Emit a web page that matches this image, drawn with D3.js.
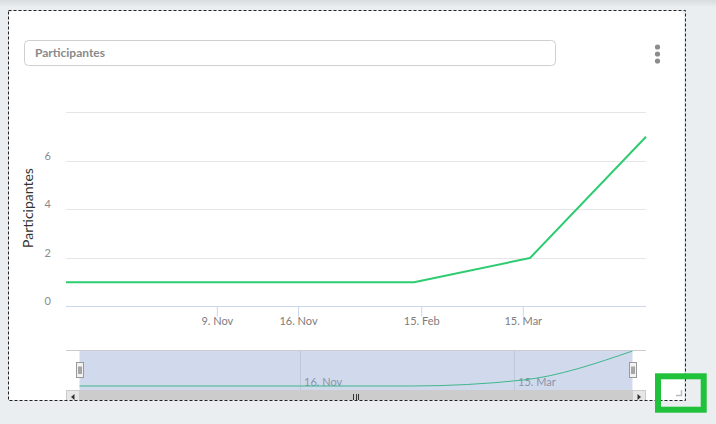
<!DOCTYPE html>
<html><head><meta charset="utf-8">
<script src="https://cdn.jsdelivr.net/npm/d3@7"></script>
<style>
html,body{margin:0;padding:0;background:#ebeef0;}
svg{display:block;font-family:Lato,"Open Sans",sans-serif;}
</style>
</head><body>
<svg id="c" width="716" height="424"></svg>
<script>
// ---- data ----
const dates = ["2020-11-03","2020-11-06","2020-11-16","2021-02-13","2021-03-17","2021-03-24"];
const participants = [1, 1, 1, 1, 2, 7];
const xTickDates = ["2020-11-09","2020-11-16","2021-02-15","2021-03-15"];
const navTickDates = ["2020-11-16","2021-03-15"];
const yTicks = [0, 2, 4, 6, 8];
const yLabelTicks = [0, 2, 4, 6];
const seriesName = "Participantes";

const parse = d3.utcParse("%Y-%m-%d");
const data = dates.map((d, i) => ({date: parse(d), v: participants[i]}));
const fmt = d3.utcFormat("%-d. %b");

const W = 716, H = 424;
const svg = d3.select("#c");
const defs = svg.append("defs");

// page background
const g0 = defs.append("linearGradient").attr("id","topShade").attr("x1",0).attr("x2",0).attr("y1",0).attr("y2",1);
g0.append("stop").attr("offset","0%").attr("stop-color","#d8dcde");
g0.append("stop").attr("offset","100%").attr("stop-color","#ebeef0");
svg.append("rect").attr("width",W).attr("height",H).attr("fill","#ebeef0");
svg.append("rect").attr("width",W).attr("height",7).attr("fill","url(#topShade)");

// card
const card = {x:9, y:11, w:675, h:389};
defs.append("clipPath").attr("id","cardClip").append("rect")
  .attr("x",card.x).attr("y",card.y).attr("width",card.w).attr("height",card.h);
svg.append("rect").attr("x",card.x).attr("y",card.y).attr("width",card.w).attr("height",card.h+6)
  .attr("rx",5).attr("fill","#fff").attr("clip-path","url(#cardClip)");

const G = svg.append("g").attr("clip-path","url(#cardClip)");

// title box
G.append("rect").attr("x",24.5).attr("y",40.5).attr("width",531).attr("height",25).attr("rx",4)
  .attr("fill","#fff").attr("stroke","#cfcfcf");
G.append("text").attr("x",35).attr("y",56.5).attr("font-size",12).attr("font-weight","bold")
  .attr("fill","#8a8a8a").text(seriesName);

// menu dots
G.selectAll("circle.dot").data([0,1,2]).join("circle").attr("class","dot")
  .attr("cx",657.5).attr("cy",d=>47+d*7).attr("r",2.6).attr("fill","#8c8c8c");

// ---- main plot ----
const plot = {left:66, right:646, top:112.5, bottom:306.5};
const n = data.length;
const slots = (a, b) => d3.range(n).map(i => a + i*(b-a)/(n-1));
const x = d3.scaleUtc().domain(data.map(d=>d.date)).range(slots(plot.left, plot.right));
const y = d3.scaleLinear().domain([0, d3.max(yTicks)]).range([plot.bottom, plot.top]);
const crisp = v => Math.round(v - 0.5) + 0.5;

// gridlines
G.append("g").selectAll("line").data(yTicks).join("line")
  .attr("x1",plot.left).attr("x2",plot.right)
  .attr("y1",d=>crisp(y(d))).attr("y2",d=>crisp(y(d)))
  .attr("stroke","#e6e6e6");

// y labels
const yAxis = G.append("g").attr("transform",`translate(${plot.left},0)`)
  .call(d3.axisLeft(y).tickValues(yLabelTicks).tickSize(0).tickPadding(15));
yAxis.select(".domain").remove();
yAxis.selectAll("text").attr("font-size",11).attr("fill","#8a8a8a").attr("font-family","Lato")
  .attr("dy","-0.18em");

// x axis
const xAxis = G.append("g").attr("transform",`translate(0,${plot.bottom})`)
  .call(d3.axisBottom(x).tickValues(xTickDates.map(parse)).tickFormat(fmt).tickSize(10).tickPadding(1));
xAxis.select(".domain").remove();
xAxis.selectAll(".tick line").attr("stroke","#ccd6eb");
xAxis.selectAll("text").attr("font-size",11).attr("fill","#7d7d7d").attr("font-family","Lato");
G.append("line").attr("x1",plot.left).attr("x2",plot.right).attr("y1",plot.bottom).attr("y2",plot.bottom)
  .attr("stroke","#ccd6eb");

// y title
G.append("text").attr("transform","translate(33,208) rotate(-90)").attr("text-anchor","middle")
  .attr("font-size",14).attr("fill","#333").text(seriesName);

// main line
G.append("path").datum(data)
  .attr("d", d3.line().x(d=>x(d.date)).y(d=>y(d.v)))
  .attr("fill","none").attr("stroke","#2ecc71").attr("stroke-width",2).attr("stroke-linejoin","round");

// ---- navigator ----
const nav = {left:66, right:646, top:350, bottom:390, inset:13.5};
const maskL = nav.left + nav.inset, maskR = nav.right - nav.inset;
const xNav = d3.scaleUtc().domain(data.map(d=>d.date)).range(slots(maskL, maskR));
const yNav = d3.scaleLinear().domain(d3.extent(participants)).range([nav.bottom-4, nav.top+1]);

const NG = G.append("g");
navTickDates.map(parse).forEach(t => {
  const xp = crisp(xNav(t));
  NG.append("line").attr("x1",xp).attr("x2",xp).attr("y1",nav.top).attr("y2",nav.bottom).attr("stroke","#e6e6e6");
  NG.append("text").attr("x",xp+3.5).attr("y",nav.bottom-4).attr("font-size",11).attr("fill","#999")
    .text(fmt(t));
});
NG.append("path").datum(data)
  .attr("d", d3.line().curve(d3.curveMonotoneX).x(d=>xNav(d.date)).y(d=>yNav(d.v)))
  .attr("fill","none").attr("stroke","#2ecc71").attr("stroke-width",1);
NG.append("rect").attr("x",maskL).attr("y",nav.top).attr("width",maskR-maskL).attr("height",nav.bottom-nav.top)
  .attr("fill","rgba(102,133,194,0.3)");
NG.append("line").attr("x1",nav.left).attr("x2",nav.right).attr("y1",nav.top+0.5).attr("y2",nav.top+0.5)
  .attr("stroke","#cccccc");

// handles
const midY = (nav.top + nav.bottom)/2;
[maskL, maskR].forEach(hx => {
  const hx0 = Math.round(hx - 3.5) + 0.5;
  NG.append("rect").attr("x",hx0).attr("y",midY-7.5).attr("width",7).attr("height",15)
    .attr("fill","#f2f2f2").attr("stroke","#999");
  [2.5, 4.5].forEach(o => NG.append("line").attr("x1",hx0+o).attr("x2",hx0+o)
    .attr("y1",midY-3.5).attr("y2",midY+4).attr("stroke","#333").attr("stroke-width",0.8));
});

// scrollbar
const sb = {top:nav.bottom, h:14, btn:14};
NG.append("rect").attr("x",nav.left).attr("y",sb.top).attr("width",nav.right-nav.left).attr("height",sb.h).attr("fill","#f2f2f2");
NG.append("rect").attr("x",maskL).attr("y",sb.top).attr("width",maskR-maskL).attr("height",sb.h).attr("fill","#cccccc");
[[nav.left, -1],[nav.right - sb.btn, 1]].forEach(([bx, dir]) => {
  NG.append("rect").attr("x",bx+0.5).attr("y",sb.top+0.5).attr("width",sb.btn-1).attr("height",sb.h-1)
    .attr("fill","#e6e6e6").attr("stroke","#cccccc");
  const cx = bx + sb.btn/2, cy = sb.top + sb.h/2;
  NG.append("path").attr("d",`M${cx+dir*2},${cy} L${cx-dir*1.5},${cy-3} L${cx-dir*1.5},${cy+3} Z`).attr("fill","#333");
});
const thumbC = (maskL + maskR)/2;
[-2.5, 0, 2.5].forEach(o => NG.append("line").attr("x1",crisp(thumbC+o)).attr("x2",crisp(thumbC+o))
  .attr("y1",sb.top+4).attr("y2",sb.top+10).attr("stroke","#333"));

// resize grip
svg.append("path").attr("d","M676,395.5 L681.5,395.5 L681.5,390").attr("fill","none").attr("stroke","#bbbbbb").attr("stroke-width",1.5);

// dashed border
svg.append("rect").attr("x",8.5).attr("y",10.5).attr("width",677).attr("height",390)
  .attr("fill","none").attr("stroke","#222").attr("stroke-dasharray","3,2");

// highlight box
svg.append("rect").attr("x",658).attr("y",376.3).attr("width",45.7).attr("height",33.4)
  .attr("fill","none").attr("stroke","#1fc23a").attr("stroke-width",6);
</script>
</body></html>
